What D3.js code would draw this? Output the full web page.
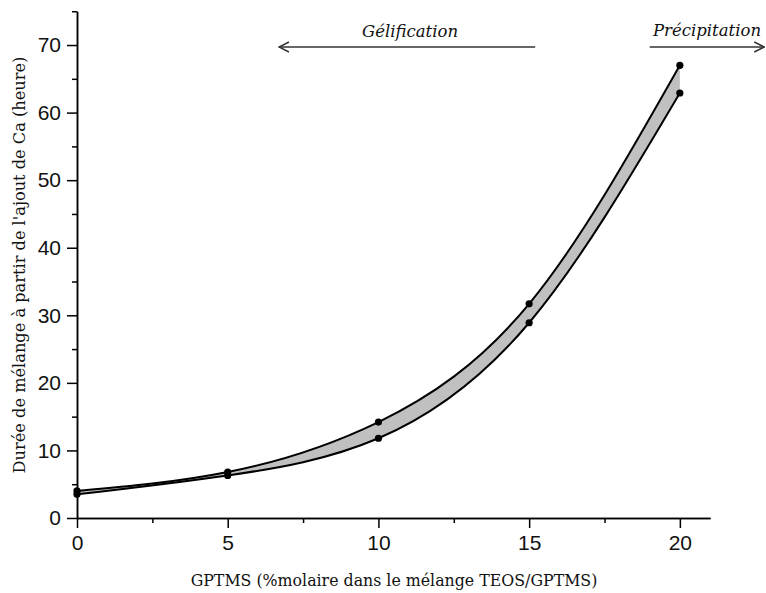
<!DOCTYPE html>
<html><head><meta charset="utf-8">
<script src="https://cdn.jsdelivr.net/npm/d3@7/dist/d3.min.js"></script>
<style>
body{margin:0;background:#fff;}
svg{display:block;}
.tick text{font-family:"Liberation Sans",Arial,sans-serif;font-size:21px;fill:#111;}
</style></head>
<body>
<svg id="chart" width="766" height="593"></svg>
<script>
// Data
const gptms = [0, 5, 10, 15, 20];
const upperHours = [4.0, 6.8, 14.2, 31.7, 67.0];
const lowerHours = [3.5, 6.3, 11.8, 28.9, 62.9];
const xMajorTicks = [0, 5, 10, 15, 20];
const xMinorTicks = [2.5, 7.5, 12.5, 17.5];
const yMajorTicks = [0, 10, 20, 30, 40, 50, 60, 70];
const yMinorTicks = [5, 15, 25, 35, 45, 55, 65, 75];
const xLabel = "GPTMS (%molaire dans le mélange TEOS/GPTMS)";
const yLabel = "Durée de mélange à partir de l'ajout de Ca (heure)";
const annotations = [
  {text: "Gélification", from: 15.2, to: 6.7},
  {text: "Précipitation", from: 19.0, to: 22.8}
];

const svg = d3.select("#chart");
const x = d3.scaleLinear().domain([0, 21]).range([77, 710]);
const y = d3.scaleLinear().domain([0, 75]).range([518, 11.25]);

// band
const pts = gptms.map((g, i) => ({g, hi: upperHours[i], lo: lowerHours[i]}));
const curve = d3.curveNatural;
svg.append("path").datum(pts)
  .attr("d", d3.area().x(d => x(d.g)).y0(d => y(d.lo)).y1(d => y(d.hi)).curve(curve))
  .attr("fill", "#c0c0c0").attr("stroke", "none");
[upperHours, lowerHours].forEach(arr => {
  svg.append("path").datum(gptms.map((g, i) => [g, arr[i]]))
    .attr("d", d3.line().x(d => x(d[0])).y(d => y(d[1])).curve(curve))
    .attr("fill", "none").attr("stroke", "#000").attr("stroke-width", 2);
});
// left closing edge
svg.append("line")
  .attr("x1", x(gptms[0])).attr("x2", x(gptms[0]))
  .attr("y1", y(lowerHours[0])).attr("y2", y(upperHours[0]))
  .attr("stroke", "#000").attr("stroke-width", 3);
// points
[upperHours, lowerHours].forEach(arr => {
  svg.selectAll(null).data(gptms.map((g, i) => [g, arr[i]])).enter()
    .append("circle").attr("cx", d => x(d[0])).attr("cy", d => y(d[1]))
    .attr("r", 3.6).attr("fill", "#000");
});

// axes
const styleAxis = g => {
  g.select(".domain").attr("stroke", "#000").attr("stroke-width", 1.5);
  g.selectAll(".tick line").attr("stroke", "#000").attr("stroke-width", 1.5);
};
svg.append("g").attr("transform", `translate(0,${y(0)})`)
  .call(d3.axisBottom(x).tickValues(xMinorTicks).tickSize(5).tickFormat("").tickSizeOuter(0))
  .call(styleAxis);
svg.append("g").attr("transform", `translate(0,${y(0)})`)
  .call(d3.axisBottom(x).tickValues(xMajorTicks).tickSize(10).tickPadding(7).tickFormat(d3.format("d")).tickSizeOuter(0))
  .call(styleAxis);
svg.append("g").attr("transform", `translate(${x(0)},0)`)
  .call(d3.axisLeft(y).tickValues(yMinorTicks).tickSize(5).tickFormat("").tickSizeOuter(0))
  .call(styleAxis);
svg.append("g").attr("transform", `translate(${x(0)},0)`)
  .call(d3.axisLeft(y).tickValues(yMajorTicks).tickSize(10).tickPadding(6).tickFormat(d3.format("d")).tickSizeOuter(0))
  .call(styleAxis);

// axis labels
svg.append("text").attr("x", 394).attr("y", 586).attr("text-anchor", "middle")
  .attr("font-family", "DejaVu Serif, serif").attr("font-size", 15.8).attr("fill", "#111")
  .text(xLabel);
svg.append("text").attr("transform", `translate(25,265) rotate(-90)`).attr("text-anchor", "middle")
  .attr("font-family", "DejaVu Serif, serif").attr("font-size", 16.2).attr("fill", "#111")
  .text(yLabel);

// annotations
const defs = svg.append("defs");
defs.append("marker").attr("id", "arr").attr("viewBox", "0 0 12 12").attr("refX", 11).attr("refY", 6)
  .attr("markerWidth", 12).attr("markerHeight", 12).attr("markerUnits", "userSpaceOnUse").attr("orient", "auto")
  .append("path").attr("d", "M1,1 L11,6 L1,11").attr("fill", "none").attr("stroke", "#333").attr("stroke-width", 1.5);
const annY = 47;
annotations.forEach(a => {
  svg.append("line").attr("x1", x(a.from)).attr("x2", x(a.to)).attr("y1", annY).attr("y2", annY)
    .attr("stroke", "#333").attr("stroke-width", 1.5).attr("marker-end", "url(#arr)");
});
svg.append("text").attr("x", 410).attr("y", 37).attr("text-anchor", "middle")
  .attr("font-family", "DejaVu Serif, serif").attr("font-style", "italic").attr("font-size", 16.5).attr("fill", "#111")
  .text(annotations[0].text);
svg.append("text").attr("x", 707).attr("y", 36).attr("text-anchor", "middle")
  .attr("font-family", "DejaVu Serif, serif").attr("font-style", "italic").attr("font-size", 16.5).attr("fill", "#111")
  .text(annotations[1].text);
</script>
</body></html>
